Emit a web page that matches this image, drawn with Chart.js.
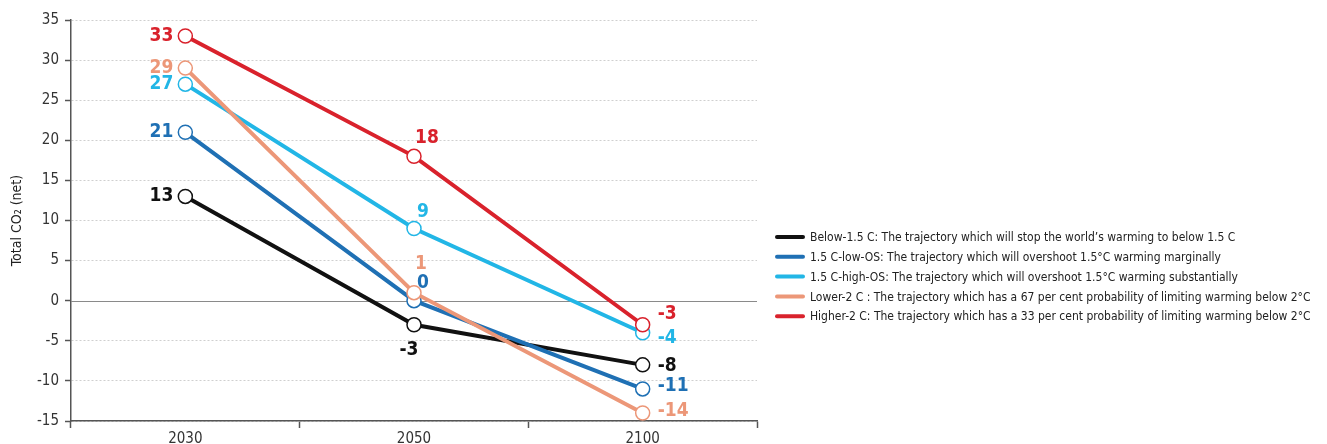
<!DOCTYPE html>
<html>
<head>
<meta charset="utf-8">
<script src="https://cdn.jsdelivr.net/npm/chart.js@4.4.1/dist/chart.umd.min.js"></script>
<style>
  html, body { margin: 0; padding: 0; background: #ffffff; }
  #wrap { width: 1327px; height: 444px; }
</style>
</head>
<body>
<div id="wrap"><canvas id="c" width="1327" height="444"></canvas></div>
<script>
const categories = ['2030', '2050', '2100'];
const below15 = [13, -3, -8];
const lowOS = [21, 0, -11];
const highOS = [27, 9, -4];
const lower2 = [29, 1, -14];
const higher2 = [33, 18, -3];
const seriesLabels = [
  'Below-1.5 C: The trajectory which will stop the world\u2019s warming to below 1.5 C',
  '1.5 C-low-OS: The trajectory which will overshoot 1.5\u00b0C warming marginally',
  '1.5 C-high-OS: The trajectory which will overshoot 1.5\u00b0C warming substantially',
  'Lower-2 C : The trajectory which has a 67 per cent probability of limiting warming below 2\u00b0C',
  'Higher-2 C: The trajectory which has a 33 per cent probability of limiting warming below 2\u00b0C'
];
const yTicks = [-15, -10, -5, 0, 5, 10, 15, 20, 25, 30, 35];

const colors = ['#111111', '#1f70b4', '#22b6e6', '#ec9778', '#d9222c'];
const FONT = '"Liberation Sans Narrow", "DejaVu Sans Condensed", "Liberation Sans", sans-serif';

// label placement per dataset & category: [dx, dy, align]
const labelPos = [
  [[-12, 0, 'right'], [-5, 25, 'center'], [15, 1, 'left']],
  [[-12, 0, 'right'], [9, -18, 'center'], [15, -3, 'left']],
  [[-12, 0, 'right'], [9, -16, 'center'], [15, 5, 'left']],
  [[-12, 0, 'right'], [7, -29, 'center'], [15, -2, 'left']],
  [[-12, 0, 'right'], [13, -18, 'center'], [15, -11, 'left']]
];

const valueLabels = {
  id: 'valueLabels',
  afterDatasetsDraw(chart) {
    const ctx = chart.ctx;
    ctx.save();
    ctx.font = 'bold 19px ' + FONT;
    ctx.textBaseline = 'middle';
    chart.data.datasets.forEach((ds, di) => {
      const meta = chart.getDatasetMeta(di);
      meta.data.forEach((pt, i) => {
        const p = labelPos[di][i];
        ctx.fillStyle = colors[di];
        ctx.textAlign = p[2];
        ctx.fillText(String(ds.data[i]), pt.x + p[0], pt.y + p[1]);
      });
    });
    ctx.restore();
  }
};

const zeroLine = {
  id: 'zeroLine',
  beforeDatasetsDraw(chart) {
    const y = chart.scales.y.getPixelForValue(0);
    const a = chart.chartArea;
    const ctx = chart.ctx;
    ctx.save();
    ctx.strokeStyle = '#8a8a8a';
    ctx.lineWidth = 1;
    ctx.beginPath();
    ctx.moveTo(a.left, Math.round(y) + 0.5);
    ctx.lineTo(a.right, Math.round(y) + 0.5);
    ctx.stroke();
    ctx.restore();
  }
};

const sideLegend = {
  id: 'sideLegend',
  afterDraw(chart) {
    const ctx = chart.ctx;
    ctx.save();
    ctx.font = '12px ' + FONT;
    ctx.textBaseline = 'middle';
    ctx.textAlign = 'left';
    const x0 = 775, y0 = 237, step = 19.8;
    chart.data.datasets.forEach((ds, i) => {
      const y = y0 + i * step;
      ctx.strokeStyle = ds.borderColor;
      ctx.lineWidth = 4;
      ctx.lineCap = 'round';
      ctx.beginPath();
      ctx.moveTo(x0 + 2, y);
      ctx.lineTo(x0 + 28, y);
      ctx.stroke();
      ctx.fillStyle = '#222222';
      ctx.fillText(ds.label, x0 + 35, y + 1);
    });
    ctx.restore();
  }
};

const seriesData = [below15, lowOS, highOS, lower2, higher2];
const datasets = seriesData.map((d, i) => ({
  label: seriesLabels[i],
  data: d,
  borderColor: colors[i],
  backgroundColor: colors[i],
  borderWidth: 4,
  tension: 0,
  pointRadius: 7,
  pointHoverRadius: 7,
  pointBackgroundColor: '#ffffff',
  pointBorderColor: colors[i],
  pointBorderWidth: 1.5,
  order: 5 - i
}));

new Chart(document.getElementById('c'), {
  type: 'line',
  data: { labels: categories, datasets: datasets },
  options: {
    responsive: false,
    animation: false,
    events: [],
    layout: { padding: { top: 20, right: 570, left: 9, bottom: 0 } },
    plugins: {
      legend: { display: false },
      tooltip: { enabled: false }
    },
    scales: {
      x: {
        offset: true,
        grid: {
          offset: true,
          drawOnChartArea: false,
          drawTicks: true,
          tickLength: 7,
          tickColor: '#555555',
          tickWidth: 1.5
        },
        border: { color: '#555555', width: 1.5 },
        ticks: {
          color: '#333333',
          font: { family: FONT, size: 15 },
          padding: 2
        },
        afterFit(scale) { scale.height = 23; }
      },
      y: {
        min: -15,
        max: 35,
        afterBuildTicks(scale) { scale.ticks = yTicks.map(v => ({ value: v })); },
        grid: {
          color: (c) => (c.tick && c.tick.value === 0) ? 'rgba(0,0,0,0)' : '#cfcfcf',
          lineWidth: 1,
          drawTicks: true,
          tickLength: 6,
          tickColor: '#555555',
          tickWidth: 1.5
        },
        border: { color: '#555555', width: 1.5, dash: [2, 2] },
        ticks: {
          color: '#333333',
          font: { family: FONT, size: 15 },
          padding: 6
        },
        title: {
          display: true,
          text: 'Total CO\u2082 (net)',
          color: '#222222',
          font: { family: FONT, size: 14 },
          padding: { top: 0, bottom: 6 }
        },
        afterFit(scale) { scale.width = 62; }
      }
    }
  },
  plugins: [zeroLine, valueLabels, sideLegend]
});
</script>
</body>
</html>
